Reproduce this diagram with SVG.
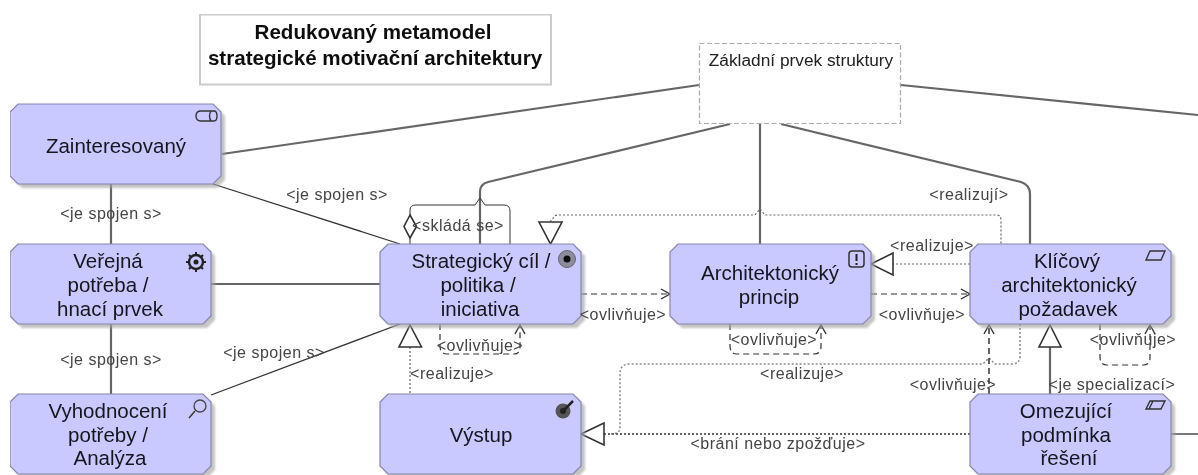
<svg xmlns="http://www.w3.org/2000/svg" xmlns:xlink="http://www.w3.org/1999/xlink" width="1198" height="475" viewBox="0 0 1198 475">
<defs>
<style>
text{font-family:"Liberation Sans",Arial,sans-serif;text-anchor:middle}
.n{font-size:20.5px;fill:#15151f}
.l{font-size:16px;fill:#444;letter-spacing:.5px}
.t{font-size:20.6px;font-weight:bold;fill:#111}
.box{fill:#c9c9ff;stroke:#8585ad;stroke-width:1.2}
.sh{fill:#a5a5a5;opacity:.65}
.a{fill:none;stroke:#333;stroke-width:1.3}
.b{fill:none;stroke:#666;stroke-width:2.2}
.d{fill:none;stroke:#333;stroke-width:1.2;stroke-dasharray:6 4}
.o{fill:none;stroke:#666;stroke-width:1.2;stroke-dasharray:2 2}
.tri{fill:#fff;stroke:#333;stroke-width:1.6}
.i{fill:none;stroke:#333;stroke-width:1.4}
</style>
<filter id="soft" x="0" y="0" width="1" height="1"><feGaussianBlur stdDeviation="0.6"/></filter>
<filter id="sb" x="-5%" y="-5%" width="110%" height="110%"><feGaussianBlur stdDeviation="1.2"/></filter>
<marker id="ar" markerWidth="12" markerHeight="14" refX="10" refY="7" orient="auto" markerUnits="userSpaceOnUse"><path d="M1 2L10 7L1 12" fill="none" stroke="#333" stroke-width="1.4"/></marker>
<path id="s" d="M8 0H193L201 8V72L193 80H8L0 72V8Z"/>
<path id="w" d="M8 0H203L211 8V72L203 80H8L0 72V8Z"/>
</defs>
<rect width="1198" height="475" fill="#fff"/>
<g filter="url(#soft)">
<g id="title">
<rect x="200" y="14.500" width="351" height="70" fill="#fff" stroke="#ccc" stroke-width="2"/>
<text class="t" x="373" y="39">Redukovaný metamodel</text>
<text class="t" x="375" y="65">strategické motivační architektury</text>
</g>
<g id="connectors">
<path class="b" d="M699 85L222 154"/>
<path class="b" d="M730 124L488 182Q480 184 480 192V244"/>
<path class="b" d="M760 124V244"/>
<path class="b" d="M781 124L1021 182Q1030 185 1030 194V244"/>
<path class="b" d="M901 85L1198 115"/>
<path class="a" d="M213 184L400 244"/>
<path class="b" d="M111 184V244M111 324V394"/>
<path class="a" d="M211 284H380"/>
<path class="a" d="M211 395L400 324"/>
<path class="a" style="stroke-width:1" d="M410 215V210Q410 205 416 205H475L480 198L485 205H504Q510 205 510 211V244M410 238V244"/>
<path class="tri" d="M410 215L404 226.500L410 238L416.500 226.500Z"/>
<path class="o" d="M550 222L555 216Q556 215 560 215H755L760 209L765 215H996Q1001 215 1001 220V244"/>
<path class="tri" d="M539 222H562L550.500 244Z"/>
<path class="d" marker-end="url(#ar)" d="M440 324V346Q440 354 447 354H514Q520 354 520 347V325"/>
<path class="d" marker-end="url(#ar)" d="M581 294H670"/>
<path class="d" marker-end="url(#ar)" d="M871 294H970"/>
<path class="d" marker-end="url(#ar)" d="M730 324V346Q730 354 737 354H814Q821 354 821 347V325"/>
<path class="d" marker-end="url(#ar)" d="M1100 324V357Q1100 365 1107 365H1143Q1150 365 1150 358V325"/>
<path class="o" d="M970 264H893"/>
<path class="tri" d="M871 264L893 253V275Z"/>
<path class="o" style="stroke:#888;stroke-width:1.5" d="M1020 324V356Q1020 364 1012 364H995L989 358L983 364H630Q620 364 620 374V428Q620 434 610 434"/>
<path class="o" style="stroke:#666;stroke-width:1.8" d="M970 434H604"/>
<path class="tri" d="M581 434L604 423V445Z"/>
<path class="d" style="stroke-width:1.5" marker-end="url(#ar)" d="M989 394V325"/>
<path class="b" d="M1050 347V394"/>
<path class="tri" d="M1050 325L1061 347H1039Z"/>
<path class="a" d="M1171 434H1198"/>
<path class="o" d="M410 347V394"/>
<path class="tri" d="M410 325L421.500 347H399Z"/>
</g>
<g id="zakladni">
<rect x="699.500" y="43.500" width="201" height="80" fill="#fff" stroke="#aaa" stroke-width="1.2" stroke-dasharray="5 2.500"/>
<text x="801" y="66" style="font-size:17.3px;fill:#222">Základní prvek struktury</text>
</g>
<g id="zainteresovany">
<use href="#w" x="14" y="108" class="sh" filter="url(#sb)"/>
<use href="#w" x="10" y="104" class="box"/>
<text class="n" x="116" y="153">Zainteresovaný</text>
<path class="i" d="M201 111H214Q217 111 217 116Q217 121 214 121H201Q196 121 196 116Q196 111 201 111ZM211 111Q208 116 211 121"/>
</g>
<g id="verejna">
<use href="#s" x="14" y="248" class="sh" filter="url(#sb)"/>
<use href="#s" x="10" y="244" class="box"/>
<text class="n" x="108" y="268">Veřejná</text>
<text class="n" x="108" y="292">potřeba /</text>
<text class="n" x="110" y="316">hnací prvek</text>
<circle cx="196" cy="262" r="7" fill="none" stroke="#222" stroke-width="2.400"/>
<circle cx="196" cy="262" r="2.500" fill="#222"/>
<path stroke="#222" stroke-width="2" d="M196 252V256M196 268V272M186 262H190M202 262H206M189 255L191 257M203 255L201 257M189 269L191 267M203 269L201 267" fill="none"/>
</g>
<g id="vyhodnoceni">
<use href="#s" x="14" y="398" class="sh" filter="url(#sb)"/>
<use href="#s" x="10" y="394" class="box"/>
<text class="n" x="108" y="418">Vyhodnocení</text>
<text class="n" x="108" y="442">potřeby /</text>
<text class="n" x="110" y="465">Analýza</text>
<circle cx="200" cy="406" r="6" fill="none" stroke="#444" stroke-width="1.300"/>
<path class="i" d="M195 411L189 418"/>
</g>
<g id="strategicky">
<use href="#s" x="384" y="248" class="sh" filter="url(#sb)"/>
<use href="#s" x="380" y="244" class="box"/>
<text class="n" x="481" y="268">Strategický cíl /</text>
<text class="n" x="478" y="292">politika /</text>
<text class="n" x="480" y="316">iniciativa</text>
<circle cx="567" cy="259" r="8.500" fill="#8c8c9c" stroke="#666"/>
<circle cx="567" cy="259" r="3.500" fill="#111"/>
</g>
<g id="vystup">
<use href="#s" x="384" y="398" class="sh" filter="url(#sb)"/>
<use href="#s" x="380" y="394" class="box"/>
<text class="n" x="481" y="442">Výstup</text>
<circle cx="563" cy="411" r="7.500" fill="#555"/>
<circle cx="563" cy="411" r="3" fill="#222"/>
<path stroke="#222" stroke-width="2.500" d="M563 411L573 401"/>
</g>
<g id="princip">
<use href="#s" x="674" y="248" class="sh" filter="url(#sb)"/>
<use href="#s" x="670" y="244" class="box"/>
<text class="n" x="770" y="280">Architektonický</text>
<text class="n" x="769" y="304">princip</text>
<rect x="849" y="251" width="15" height="16" rx="3" fill="none" stroke="#333" stroke-width="1.500"/>
<path d="M856.500 254V261M856.500 263V265" stroke="#222" stroke-width="2" fill="none"/>
</g>
<g id="pozadavek">
<use href="#s" x="974" y="248" class="sh" filter="url(#sb)"/>
<use href="#s" x="970" y="244" class="box"/>
<text class="n" x="1067" y="268">Klíčový</text>
<text class="n" x="1069" y="292">architektonický</text>
<text class="n" x="1068" y="316">požadavek</text>
<path class="i" d="M1150 251H1165L1161 260H1146Z"/>
</g>
<g id="omezujici">
<use href="#s" x="974" y="398" class="sh" filter="url(#sb)"/>
<use href="#s" x="970" y="394" class="box"/>
<text class="n" x="1066" y="418">Omezující</text>
<text class="n" x="1066" y="442">podmínka</text>
<text class="n" x="1069" y="465">řešení</text>
<path class="i" d="M1150 401H1165L1161 409H1146ZM1153 401L1149 409"/>
</g>
<g id="labels">
<text class="l" x="337" y="200">&lt;je spojen s&gt;</text>
<text class="l" x="111" y="219">&lt;je spojen s&gt;</text>
<text class="l" x="111" y="365">&lt;je spojen s&gt;</text>
<text class="l" x="274" y="358">&lt;je spojen s&gt;</text>
<text class="l" x="458" y="231">&lt;skládá se&gt;</text>
<text class="l" x="969" y="200">&lt;realizují&gt;</text>
<text class="l" x="932" y="251">&lt;realizuje&gt;</text>
<text class="l" x="623" y="320">&lt;ovlivňuje&gt;</text>
<text class="l" x="922" y="320">&lt;ovlivňuje&gt;</text>
<text class="l" x="480" y="351">&lt;ovlivňuje&gt;</text>
<text class="l" x="774" y="345">&lt;ovlivňuje&gt;</text>
<text class="l" x="1133" y="345">&lt;ovlivňuje&gt;</text>
<text class="l" x="953" y="390">&lt;ovlivňuje&gt;</text>
<text class="l" x="452" y="379">&lt;realizuje&gt;</text>
<text class="l" x="802" y="379">&lt;realizuje&gt;</text>
<text class="l" x="1112" y="390">&lt;je specializací&gt;</text>
<text class="l" x="778" y="449">&lt;brání nebo zpožďuje&gt;</text>
</g>
</g>
</svg>
